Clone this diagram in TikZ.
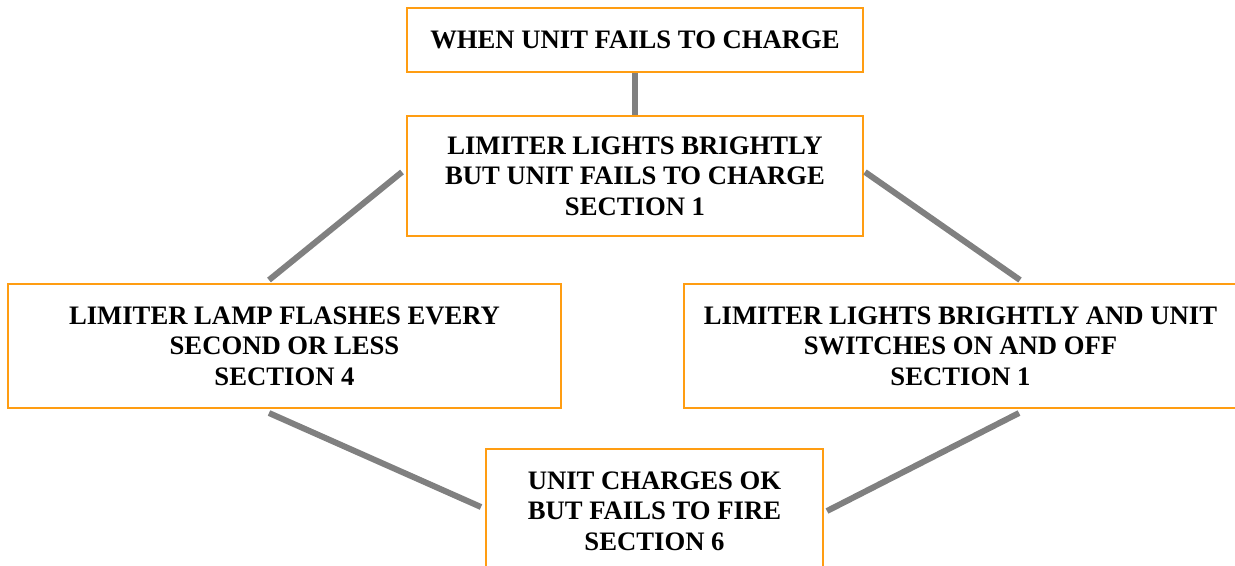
\documentclass[tikz,border=0pt]{standalone}
\usepackage{fontspec}
\setmainfont{Liberation Serif}
\usetikzlibrary{calc}
\definecolor{boxorange}{RGB}{255,157,18}
\definecolor{linegray}{RGB}{128,128,128}

\begin{document}
\begin{tikzpicture}[x=0.75pt,y=-0.75pt,
  box/.style={draw=boxorange,line width=1.5pt,inner sep=0pt,align=center,
    font=\fontsize{20}{23}\selectfont\bfseries},
  link/.style={draw=linegray,line width=4.5pt}]
\useasboundingbox (0,0) rectangle (1235,565);

\node[box,minimum width=342pt,minimum height=48pt] (when) at (635,40) {WHEN UNIT FAILS TO CHARGE};
\node[box,minimum width=342pt,minimum height=90pt] (bright) at (635,176) {LIMITER LIGHTS BRIGHTLY\\BUT UNIT FAILS TO CHARGE\\SECTION 1};
\node[box,minimum width=414.75pt,minimum height=93pt] (flash) at (284.5,346) {LIMITER LAMP FLASHES EVERY\\SECOND OR LESS\\SECTION 4};
\node[box,minimum width=414.75pt,minimum height=93pt] (onoff) at (960.5,346) {LIMITER LIGHTS BRIGHTLY AND UNIT\\SWITCHES ON AND OFF\\SECTION 1};
\node[box,minimum width=252.75pt,minimum height=93pt] (fire) at (654.5,511) {UNIT CHARGES OK\\BUT FAILS TO FIRE\\SECTION 6};

% connectors, with small gaps to the boxes
\draw[link] (when.south) -- (bright.north);
\draw[link] ($(bright.west)+(-4,-4)$) -- ($(flash.north west)+(262,-3)$);
\draw[link] ($(bright.east)+(1,-4)$) -- ($(onoff.north west)+(337,-3)$);
\draw[link] ($(flash.south west)+(262,4)$) -- ($(fire.north west)+(-4,59)$);
\draw[link] ($(onoff.south west)+(336,4)$) -- ($(fire.north east)+(3,63)$);

\end{tikzpicture}
\end{document}
